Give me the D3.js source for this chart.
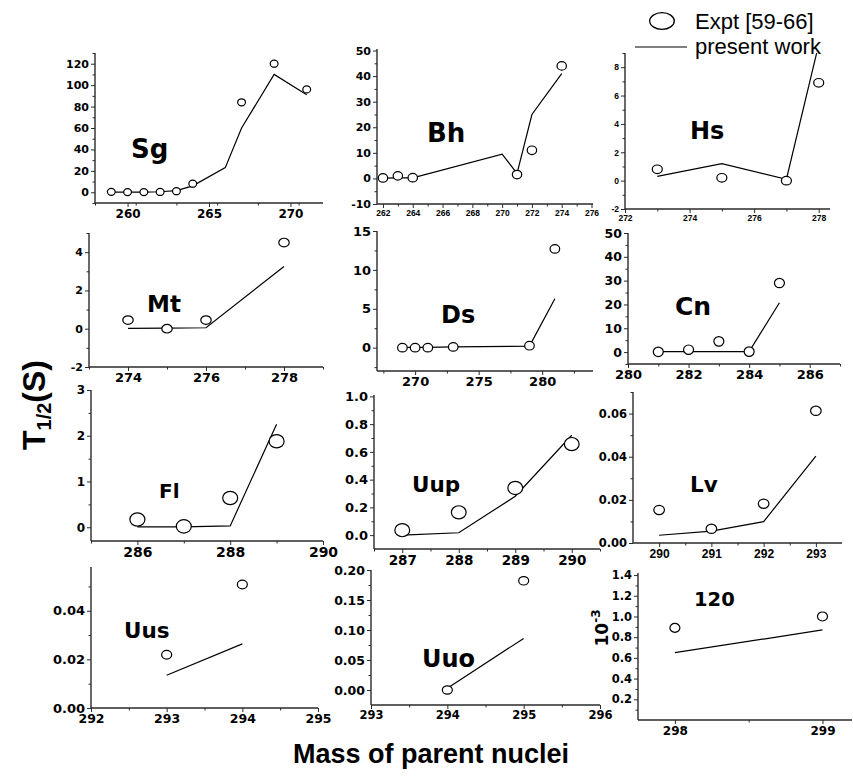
<!DOCTYPE html>
<html>
<head>
<meta charset="utf-8">
<script src="https://cdn.jsdelivr.net/npm/d3@7"></script>
<style>
  body { margin: 0; background: #fff; }
  svg { display: block; }
</style>
</head>
<body>
<svg id="chart" width="853" height="778"></svg>
<script>
// Half-lives T1/2 (s) of the heaviest isotopes: experimental points and present calculation.
const sgExptMass = [259, 260, 261, 262, 263, 264, 267, 269, 271];
const sgExpt     = [0.4, 0.2, 0.2, 0.3, 1.0, 8, 84, 120, 96];
const sgCalcMass = [259, 260, 261, 262, 263, 264, 266, 267, 269, 271];
const sgCalc     = [0.1, 0.1, 0.2, 0.5, 1.5, 6, 23, 60, 110, 91];

const bhExptMass = [262, 263, 264, 271, 272, 274];
const bhExpt     = [0.2, 1.0, 0.3, 1.5, 11, 44];
const bhCalcMass = [262, 263, 264, 270, 271, 272, 274];
const bhCalc     = [0.1, 0.2, 0.2, 9.5, 2.0, 25, 41];

const hsExptMass = [273, 275, 277, 278];
const hsExpt     = [0.8, 0.2, 0.0, 6.9];
const hsCalcMass = [273, 275, 277, 278];
const hsCalc     = [0.3, 1.2, 0.1, 9.6];

const mtExptMass = [274, 275, 276, 278];
const mtExpt     = [0.45, 0.0, 0.45, 4.5];
const mtCalcMass = [274, 275, 276, 278];
const mtCalc     = [0.02, 0.03, 0.05, 3.25];

const dsExptMass = [269, 270, 271, 273, 279, 281];
const dsExpt     = [0.0, 0.0, 0.0, 0.1, 0.25, 12.7];
const dsCalcMass = [269, 270, 271, 273, 279, 281];
const dsCalc     = [0.05, 0.05, 0.05, 0.1, 0.2, 6.3];

const cnExptMass = [281, 282, 283, 284, 285];
const cnExpt     = [0.1, 1.0, 4.5, 0.2, 29];
const cnCalcMass = [281, 282, 283, 284, 285];
const cnCalc     = [0.2, 0.2, 0.2, 0.2, 20.7];

const flExptMass = [286, 287, 288, 289];
const flExpt     = [0.17, 0.02, 0.64, 1.88];
const flCalcMass = [286, 287, 288, 289];
const flCalc     = [0.01, 0.01, 0.03, 2.25];

const uupExptMass = [287, 288, 289, 290];
const uupExpt     = [0.036, 0.164, 0.34, 0.656];
const uupCalcMass = [287, 288, 289, 290];
const uupCalc     = [0.0, 0.017, 0.28, 0.72];

const lvExptMass = [290, 291, 292, 293];
const lvExpt     = [0.0153, 0.0066, 0.0182, 0.0613];
const lvCalcMass = [290, 291, 292, 293];
const lvCalc     = [0.0036, 0.0055, 0.0099, 0.0403];

const uusExptMass = [293, 294];
const uusExpt     = [0.0219, 0.0508];
const uusCalcMass = [293, 294];
const uusCalc     = [0.0135, 0.0264];

const uuoExptMass = [294, 295];
const uuoExpt     = [0.0, 0.182];
const uuoCalcMass = [294, 295];
const uuoCalc     = [0.003, 0.086];

// element 120, values in units of 10^-3 s
const e120ExptMass = [298, 299];
const e120Expt     = [0.89, 1.0];
const e120CalcMass = [298, 299];
const e120Calc     = [0.65, 0.87];

const legendLabels = ["Expt [59-66]", "present work"];
const xTitle = "Mass of parent nuclei";

const DJ = "'DejaVu Sans', sans-serif";
const LS = "'Liberation Sans', Arial, sans-serif";
const fmtInt = d => String(d);

const panels = [
  { name: "Sg", em: sgExptMass, ev: sgExpt, cm: sgCalcMass, cv: sgCalc,
    box: [95, 323, 53, 203], xd: [258, 272], yd: [-10, 130],
    xt: [260, 265, 270], xm: d3.range(258, 272.01, 2.5).filter(v => v % 5), yt: d3.range(0, 121, 20), ym: d3.range(-10, 131, 20),
    yf: fmtInt, xFont: [DJ, 12], yFont: [DJ, 11], lab: [131, 158, 26], mk: [3.9, 3.5] },
  { name: "Bh", em: bhExptMass, ev: bhExpt, cm: bhCalcMass, cv: bhCalc,
    box: [377, 593, 49, 204], xd: [261.6, 276.1], yd: [-10, 50.6],
    xt: d3.range(262, 277, 2), xm: d3.range(263, 276, 2), yt: d3.range(-10, 51, 10), ym: d3.range(-5, 50, 10),
    yf: fmtInt, xFont: [LS, 8.5], yFont: [DJ, 11], lab: [427, 142, 26], mk: [4.7, 4.3] },
  { name: "Hs", em: hsExptMass, ev: hsExpt, cm: hsCalcMass, cv: hsCalc,
    box: [625, 830, 53, 209], xd: [272, 278.35], yd: [-2, 9],
    xt: [272, 274, 276, 278], xm: [273, 275, 277], yt: [-2, 0, 2, 4, 6, 8], ym: [-1, 1, 3, 5, 7, 9],
    yf: fmtInt, xFont: [LS, 8.5], yFont: [LS, 8.5], lab: [690, 139, 24], mk: [5, 4.3] },
  { name: "Mt", em: mtExptMass, ev: mtExpt, cm: mtCalcMass, cv: mtCalc,
    box: [89, 323, 233, 367], xd: [273, 279], yd: [-2, 5],
    xt: [274, 276, 278], xm: [273, 275, 277, 279], yt: [-2, 0, 2, 4], ym: [-1, 1, 3, 5],
    yf: fmtInt, xFont: [DJ, 13], yFont: [DJ, 11], lab: [147, 312, 23], mk: [5.2, 4.3] },
  { name: "Ds", em: dsExptMass, ev: dsExpt, cm: dsCalcMass, cv: dsCalc,
    box: [377, 593, 231, 371], xd: [267, 284], yd: [-3, 15],
    xt: [270, 275, 280], xm: [267.5, 272.5, 277.5, 282.5], yt: [0, 5, 10, 15], ym: [-2.5, 2.5, 7.5, 12.5],
    yf: fmtInt, xFont: [DJ, 13], yFont: [DJ, 13], lab: [441, 323, 24], mk: [4.8, 4.3] },
  { name: "Cn", em: cnExptMass, ev: cnExpt, cm: cnCalcMass, cv: cnCalc,
    box: [628, 840, 233, 364], xd: [280, 287], yd: [-5, 50],
    xt: [280, 282, 284, 286], xm: [281, 283, 285, 287], yt: d3.range(0, 51, 10), ym: d3.range(-5, 50, 10),
    yf: fmtInt, xFont: [DJ, 13], yFont: [DJ, 12.5], lab: [675, 315, 25], mk: [5, 4.7] },
  { name: "Fl", em: flExptMass, ev: flExpt, cm: flCalcMass, cv: flCalc,
    box: [91, 323, 390, 541], xd: [285, 290], yd: [-0.3, 3],
    xt: [286, 288, 290], xm: [285, 287, 289], yt: [0, 1, 2, 3], ym: [0.5, 1.5, 2.5],
    yf: fmtInt, xFont: [DJ, 14], yFont: [DJ, 12], lab: [159, 498, 20], mk: [7.5, 6.7] },
  { name: "Uup", em: uupExptMass, ev: uupExpt, cm: uupCalcMass, cv: uupCalc,
    box: [374, 600, 395, 549], xd: [286.5, 290.5], yd: [-0.1, 1.01],
    xt: [287, 288, 289, 290], xm: [286.5, 287.5, 288.5, 289.5, 290.5], yt: [0, 0.2, 0.4, 0.6, 0.8, 1.0], ym: [0.1, 0.3, 0.5, 0.7, 0.9],
    yf: d3.format(".1f"), xFont: [DJ, 13.5], yFont: [DJ, 13], lab: [412, 492, 21.5], mk: [7.4, 6.6] },
  { name: "Lv", em: lvExptMass, ev: lvExpt, cm: lvCalcMass, cv: lvCalc,
    box: [633, 842, 392, 543], xd: [289.5, 293.5], yd: [0, 0.07],
    xt: [290, 291, 292, 293], xm: [290.5, 291.5, 292.5], yt: [0, 0.02, 0.04, 0.06], ym: [0.01, 0.03, 0.05, 0.07],
    yf: d3.format(".2f"), xFont: [LS, 12], yFont: [DJ, 11.5], lab: [690, 492, 21.5], mk: [5.3, 4.7] },
  { name: "Uus", em: uusExptMass, ev: uusExpt, cm: uusCalcMass, cv: uusCalc,
    box: [91, 318, 567, 708], xd: [292, 295], yd: [0, 0.058],
    xt: [292, 293, 294, 295], xm: [292.5, 293.5, 294.5], yt: [0, 0.02, 0.04], ym: [0.01, 0.03, 0.05],
    yf: d3.format(".2f"), xFont: [DJ, 12.5], yFont: [DJ, 13], lab: [124, 638, 21.5], mk: [5, 4.3] },
  { name: "Uuo", em: uuoExptMass, ev: uuoExpt, cm: uuoCalcMass, cv: uuoCalc,
    box: [371, 600, 570, 705], xd: [293, 296], yd: [-0.025, 0.2],
    xt: [293, 294, 295, 296], xm: [293.5, 294.5, 295.5], yt: [0, 0.05, 0.1, 0.15, 0.2], ym: [0.025, 0.075, 0.125, 0.175],
    yf: d3.format(".2f"), xFont: [DJ, 11.5], yFont: [DJ, 12.5], lab: [422, 667, 24], mk: [5, 4.2] },
  { name: "120", em: e120ExptMass, ev: e120Expt, cm: e120CalcMass, cv: e120Calc,
    box: [638, 852, 573, 720], xd: [297.75, 299.2], yd: [0, 1.42],
    xt: [298, 299], xm: [298.5], yt: [0.2, 0.4, 0.6, 0.8, 1.0, 1.2, 1.4], ym: [0.1, 0.3, 0.5, 0.7, 0.9, 1.1, 1.3],
    yf: d3.format(".1f"), xFont: [DJ, 12], yFont: [DJ, 11.5], lab: [694, 606, 19.5], mk: [5, 4.5] }
];

const svg = d3.select("#chart");
const AXIS = "#2a2a2a";

panels.forEach((p, i) => {
  const [x0, x1, y0, y1] = p.box;
  const x = d3.scaleLinear().domain(p.xd).range([x0, x1]);
  const y = d3.scaleLinear().domain(p.yd).range([y1, y0]);
  const g = svg.append("g").attr("class", "panel panel-" + p.name);

  // minor ticks
  g.append("g").attr("transform", `translate(0,${y1})`).attr("color", AXIS)
    .call(d3.axisBottom(x).tickValues(p.xm.filter(v => v >= p.xd[0] && v <= p.xd[1])).tickSize(2.5).tickFormat(""))
    .call(a => a.select(".domain").remove());
  g.append("g").attr("transform", `translate(${x0},0)`).attr("color", AXIS)
    .call(d3.axisLeft(y).tickValues(p.ym.filter(v => v >= p.yd[0] && v <= p.yd[1])).tickSize(2.5).tickFormat(""))
    .call(a => a.select(".domain").remove());

  // major axes
  g.append("g").attr("transform", `translate(0,${y1})`).attr("color", AXIS)
    .call(d3.axisBottom(x).tickValues(p.xt).tickSize(4).tickSizeOuter(0).tickPadding(2).tickFormat(fmtInt))
    .call(a => a.selectAll("text").attr("fill", "#000"))
    .attr("font-family", p.xFont[0]).attr("font-size", p.xFont[1]).attr("font-weight", "bold")
    .call(a => a.select(".domain").attr("stroke-width", 1.4).attr("d", `M${x0},0H${x1}`));
  g.append("g").attr("transform", `translate(${x0},0)`).attr("color", AXIS)
    .call(d3.axisLeft(y).tickValues(p.yt).tickSize(4).tickSizeOuter(0).tickPadding(2).tickFormat(p.yf))
    .call(a => a.selectAll("text").attr("fill", "#000"))
    .attr("font-family", p.yFont[0]).attr("font-size", p.yFont[1]).attr("font-weight", "bold")
    .call(a => a.select(".domain").attr("stroke-width", 1.4).attr("d", `M0,${y0}V${y1}`));

  // calculated curve, clipped to the frame
  const clipId = "clip-" + i;
  g.append("clipPath").attr("id", clipId).append("rect")
    .attr("x", x0).attr("y", y0).attr("width", x1 - x0).attr("height", y1 - y0);
  const line = d3.line().x(d => x(d[0])).y(d => y(d[1]));
  g.append("path")
    .datum(d3.zip(p.cm, p.cv))
    .attr("clip-path", `url(#${clipId})`)
    .attr("d", line)
    .attr("fill", "none").attr("stroke", "#000").attr("stroke-width", 1.2);

  // experimental points
  g.selectAll("ellipse.pt").data(d3.zip(p.em, p.ev)).join("ellipse")
    .attr("class", "pt")
    .attr("cx", d => x(d[0])).attr("cy", d => y(d[1]))
    .attr("rx", p.mk[0]).attr("ry", p.mk[1])
    .attr("fill", "#fff").attr("stroke", "#000").attr("stroke-width", 1.2);

  // element symbol
  g.append("text")
    .attr("x", p.lab[0]).attr("y", p.lab[1])
    .attr("font-family", DJ).attr("font-weight", "bold").attr("font-size", p.lab[2])
    .attr("fill", "#000")
    .text(p.name);
});

// scale factor note on the element-120 panel
const sc = svg.append("text")
  .attr("transform", "translate(608,628) rotate(-90)")
  .attr("text-anchor", "middle")
  .attr("font-family", DJ).attr("font-weight", "bold").attr("font-size", 17)
  .attr("fill", "#000");
sc.append("tspan").text("10");
sc.append("tspan").attr("font-size", 12).attr("dy", -8).text("-3");

// legend
const leg = svg.append("g").attr("class", "legend");
leg.append("ellipse").attr("cx", 662).attr("cy", 21).attr("rx", 12.3).attr("ry", 8.3)
  .attr("fill", "#fff").attr("stroke", "#000").attr("stroke-width", 1.3);
leg.append("line").attr("x1", 635).attr("x2", 687).attr("y1", 47).attr("y2", 47)
  .attr("stroke", "#000").attr("stroke-width", 1.2);
leg.selectAll("text").data(legendLabels).join("text")
  .attr("x", 695).attr("y", (d, i) => 28.5 + i * 25)
  .attr("font-family", LS).attr("font-size", 22).attr("fill", "#000")
  .text(d => d);

// axis titles
const yt = svg.append("text")
  .attr("transform", "translate(45,405) rotate(-90)")
  .attr("text-anchor", "middle")
  .attr("font-family", LS).attr("font-weight", "bold").attr("font-size", 32)
  .attr("fill", "#000");
yt.append("tspan").text("T");
yt.append("tspan").attr("font-size", 20).attr("dy", 6).text("1/2");
yt.append("tspan").attr("dy", -6).text("(S)");

svg.append("text")
  .attr("x", 431).attr("y", 763)
  .attr("text-anchor", "middle")
  .attr("font-family", LS).attr("font-weight", "bold").attr("font-size", 27)
  .attr("fill", "#000")
  .text(xTitle);
</script>
</body>
</html>
